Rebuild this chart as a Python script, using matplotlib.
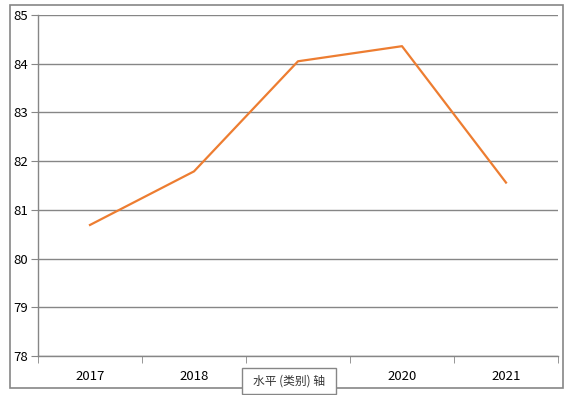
import matplotlib.pyplot as plt
from matplotlib.patches import Rectangle

years = ['2017', '2018', '2019', '2020', '2021']
values = [80.69, 81.79, 84.05, 84.36, 81.56]
y_ticks = [78, 79, 80, 81, 82, 83, 84, 85]

plt.rcParams['font.family'] = ['Noto Sans CJK SC', 'DejaVu Sans']
grey = '#868686'

fig = plt.figure(figsize=(5.71, 3.95), dpi=100)
W, H = 571, 395

# outer chart border
fig.patches.append(Rectangle((10 / W, 1 - 388 / H), 553 / W, 383 / H,
                             transform=fig.transFigure, fill=False,
                             edgecolor=grey, linewidth=1.2))

ax = fig.add_axes([38 / W, 1 - 356 / H, 520 / W, 341 / H])
x = list(range(len(years)))
ax.plot(x, values, color='#ED7D31', linewidth=1.6)

ax.set_xlim(-0.5, len(years) - 0.5)
ax.set_ylim(78, 85)
ax.set_yticks(y_ticks)
ax.set_xticks(x)
ax.set_xticklabels(years)
ax.set_xticks([i - 0.5 for i in range(len(years) + 1)], minor=True)
ax.tick_params(axis='x', which='major', length=0, pad=10, labelsize=9.5)
ax.tick_params(axis='x', which='minor', length=5, color=grey, direction='out')
ax.tick_params(axis='y', length=5, color=grey, labelsize=9.5, pad=2)
ax.grid(axis='y', color=grey, linewidth=1)
ax.set_axisbelow(True)
for s in ['top', 'right']:
    ax.spines[s].set_visible(False)
for s in ['left', 'bottom']:
    ax.spines[s].set_color(grey)
    ax.spines[s].set_linewidth(1)

# the 2019 label sits under the tooltip in the original
ax.get_xticklabels()[2].set_visible(False)

# tooltip over the horizontal axis
fig.patches.append(Rectangle((242 / W, 1 - 394 / H), 94 / W, 26 / H,
                             transform=fig.transFigure, facecolor='white',
                             edgecolor=grey, linewidth=1, zorder=5))
fig.text(289 / W, 1 - 381 / H, '水平 (类别) 轴', ha='center', va='center',
         fontsize=8.5, color='#333333', zorder=6)

fig.savefig('out.png', dpi=100)
